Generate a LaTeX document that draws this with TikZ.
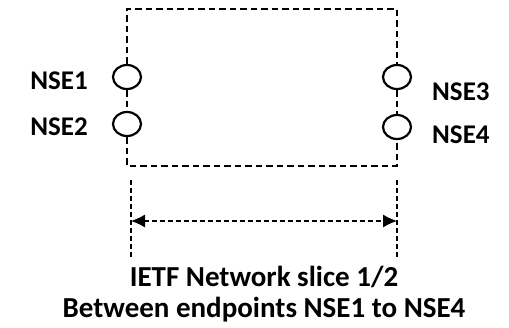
\documentclass[tikz,border=0pt]{standalone}
\usepackage{fontspec}
\setmainfont{Carlito}
\usetikzlibrary{shapes,arrows,arrows.meta}
\tikzset{%
    nse/.style = {draw, line width=2.2pt, ellipse, minimum width=28pt, minimum height=24pt, inner sep=0pt},
    lbl/.style = {font=\bfseries\fontsize{27}{31}\selectfont, inner sep=0pt},
    ttl/.style = {font=\bfseries\fontsize{29}{31}\selectfont, align=center, inner sep=0pt},
    slice/.style = {line width=2.2pt, dash pattern=on 6.5pt off 4pt},
    guide/.style = {line width=1.1pt, dash pattern=on 5pt off 3pt},
}

\begin{document}
\begin{tikzpicture}[auto, x=1pt, y=-1pt, >={Latex[length=14pt, width=13pt]}]
    \useasboundingbox (0,0) rectangle (509,327);
        \draw
            coordinate (tl) at (127,9)
            coordinate (tr) at (397,9)
            coordinate (bl) at (127,166)
            coordinate (br) at (397,166)
            node at (127,77) [nse] (nse1) {}
            node at (127,124) [nse] (nse2) {}
            node at (397,77) [nse] (nse3) {}
            node at (397,127) [nse] (nse4) {}
            node at (88,89) [lbl, anchor=base east] (lnse1) {NSE1}
            node at (88,135) [lbl, anchor=base east] (lnse2) {NSE2}
            node at (432,100) [lbl, anchor=base west] (lnse3) {NSE3}
            node at (432,143) [lbl, anchor=base west] (lnse4) {NSE4}
            node at (264,318) [ttl, anchor=south, text depth=0pt] (title)
            {
                IETF Network slice 1/2\\
                Between endpoints NSE1 to NSE4
            }
            coordinate (gl1) at (131,180)
            coordinate (gl2) at (131,258)
            coordinate (gr1) at (397,180)
            coordinate (gr2) at (397,258);

        \draw[slice] (nse1) -- (tl) -- (tr) -- (nse3);
        \draw[slice] (nse1) -- (nse2);
        \draw[slice] (nse3) -- (nse4);
        \draw[slice] (nse2) -- (bl) -- (br) -- (nse4);
        \draw[guide] (gl1) -- (gl2);
        \draw[guide] (gr1) -- (gr2);
        \draw[guide, <->]
            ([yshift=-41pt]gl1) -- ([yshift=-41pt]gr1);
    \end{tikzpicture}
\end{document}
